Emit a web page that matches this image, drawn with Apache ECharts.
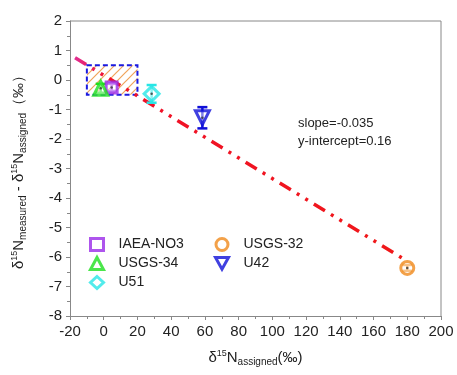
<!DOCTYPE html>
<html><head><meta charset="utf-8">
<script src="https://cdn.jsdelivr.net/npm/echarts@6/dist/echarts.min.js"></script>
<style>html,body{margin:0;padding:0;background:#fff}#c{width:457px;height:375px}</style>
</head><body><div id="c"></div>
<script>
// Data
var seriesNames = ['IAEA-NO3','USGS-34','U51','USGS-32','U42'];
var xValues = [4.7, -1.8, 28.4, 180, 58.5];
var yValues = [-0.25, -0.28, -0.47, -6.37, -1.28];
var yErrors = [0.12, 0.15, 0.3, 0.1, 0.36];
var fitSlope = -0.035, fitIntercept = 0.16;
var fitX = [-17, 180];
var boxX = [-10, 20], boxY = [-0.5, 0.5];
var xTicks = [-20, 200, 20];
var yTicks = [-8, 2, 1];

var colors = ['#9a2be8','#1ee01e','#27e6e6','#f08a1c','#1010d8'];
var symbols = ['rect','triangle','diamond','circle','path://M0,0L10,0L5,9Z'];
var sizes = [11,14,15,13,14];

var pc = document.createElement('canvas'); pc.width = 9; pc.height = 9;
var g = pc.getContext('2d'); g.strokeStyle = '#f0a35a'; g.lineWidth = 1.2;
g.beginPath(); g.moveTo(0,9); g.lineTo(9,0); g.moveTo(-1,1); g.lineTo(1,-1); g.moveTo(8,10); g.lineTo(10,8); g.stroke();

var chart = echarts.init(document.getElementById('c'));
var series = [];
seriesNames.forEach(function(n,i){
  series.push({
    name:n, type:'scatter', data:[[xValues[i], yValues[i]]],
    symbol:symbols[i], symbolSize:sizes[i],
    itemStyle:{color:'rgba(255,255,255,0.6)', borderColor:colors[i], borderWidth:3},
    z:5
  });
  series.push({
    type:'custom', name:n, data:[[xValues[i], yValues[i], yErrors[i]]], z:4,
    renderItem:function(params, api){
      var x = api.value(0), y = api.value(1), e = api.value(2);
      var p1 = api.coord([x, y+e]), p2 = api.coord([x, y-e]);
      var st = {stroke:colors[i], lineWidth:2.5};
      return {type:'group', children:[
        {type:'line', shape:{x1:p1[0],y1:p1[1],x2:p2[0],y2:p2[1]}, style:st},
        {type:'line', shape:{x1:p1[0]-5,y1:p1[1],x2:p1[0]+5,y2:p1[1]}, style:st},
        {type:'line', shape:{x1:p2[0]-5,y1:p2[1],x2:p2[0]+5,y2:p2[1]}, style:st}
      ]};
    }
  });
});
series.push({
  type:'scatter', data:xValues.map(function(x,i){return [x,yValues[i]];}),
  symbol:'circle', symbolSize:2.5, itemStyle:{color:'#333'}, z:6, silent:true
});
series.push({
  type:'line', data:fitX.map(function(x){return [x, fitIntercept + fitSlope*x];}),
  symbol:'none', z:3,
  lineStyle:{width:3.5, type:[13,7,3,7,3,7],
    color:new echarts.graphic.LinearGradient(0,0,1,0,[{offset:0,color:'#e0309a'},{offset:0.1,color:'#f0102a'},{offset:1,color:'#f01818'}])},
  markArea:{silent:true, itemStyle:{color:{image:pc, repeat:'repeat'}, borderColor:'#1a1ae0', borderWidth:2, borderType:[5,3]},
    data:[[{coord:[boxX[0],boxY[1]]},{coord:[boxX[1],boxY[0]]}]]}
});

function legendItem(i){
  return {name:seriesNames[i], icon:symbols[i],
    itemStyle:{color:'#fff', borderColor:colors[i], borderWidth:3}};
}
var legendText = {fontSize:14, color:'#222', fontFamily:'Liberation Sans, Arial', padding:[0,0,0,10]};
var axisCommon = {
  axisLine:{show:true, onZero:false, lineStyle:{color:'#888', width:1}},
  axisTick:{show:true, inside:false, length:4, lineStyle:{color:'#888'}},
  minorTick:{show:true, splitNumber:2, length:3, lineStyle:{color:'#888'}},
  splitLine:{show:false},
  axisLabel:{color:'#222', fontSize:15, fontFamily:'Liberation Sans, Arial'}
};
chart.setOption({
  animation:false,
  grid:{left:70, right:16, top:21, bottom:59},
  legend:[
    {data:[legendItem(0),legendItem(1),legendItem(2)], orient:'vertical', left:84, top:232, itemGap:4, itemWidth:13, itemHeight:12,
      textStyle:legendText},
    {data:[legendItem(3),legendItem(4)], orient:'vertical', left:209, top:232, itemGap:4, itemWidth:13, itemHeight:12,
      textStyle:legendText}
  ],
  xAxis:Object.assign({}, axisCommon, {type:'value', min:xTicks[0], max:xTicks[1], interval:xTicks[2],
    name:'{a|δ}{sup|15}{a|N}{sub|assigned}{a|(‰)}', nameLocation:'middle', nameGap:33,
    nameTextStyle:{rich:{a:{fontSize:15,color:'#222',fontFamily:'Liberation Sans, Arial'},
      sup:{fontSize:9,color:'#222',verticalAlign:'top',padding:[0,0,8,0]},
      sub:{fontSize:10,color:'#222',verticalAlign:'bottom',padding:[8,0,0,0]}}}}),
  yAxis:Object.assign({}, axisCommon, {type:'value', min:yTicks[0], max:yTicks[1], interval:yTicks[2],
    name:'{a|δ}{sup|15}{a|N}{sub|measured}{a| - δ}{sup|15}{a|N}{sub|assigned}{a|（‰）}', nameLocation:'middle', nameGap:42, nameRotate:90,
    nameTextStyle:{rich:{a:{fontSize:15,color:'#222',fontFamily:'Liberation Sans, Arial'},
      sup:{fontSize:9,color:'#222',verticalAlign:'top',padding:[0,0,8,0]},
      sub:{fontSize:10,color:'#222',verticalAlign:'bottom',padding:[8,0,0,0]}}}}),
  graphic:[
    {type:'text', left:298, top:114, style:{text:'slope=-0.035\ny-intercept=0.16', fontSize:13, lineHeight:18, fill:'#222', fontFamily:'Liberation Sans, Arial'}},
    {type:'line', shape:{x1:70,y1:21,x2:441,y2:21}, style:{stroke:'#888'}},
    {type:'line', shape:{x1:441,y1:21,x2:441,y2:316}, style:{stroke:'#888'}}
  ],
  series:series
});
</script></body></html>
